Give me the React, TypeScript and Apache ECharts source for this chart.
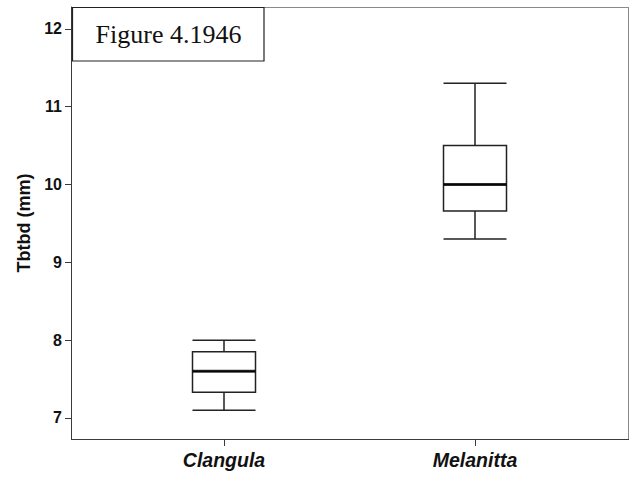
import React, { useEffect, useRef } from "react";
import * as echarts from "echarts";

const categories = ["Clangula", "Melanitta"];
// [min, Q1, median, Q3, max]
const boxValues = [
  [7.1, 7.33, 7.6, 7.85, 8.0],
  [9.3, 9.66, 10.0, 10.5, 11.3],
];
const medians = [7.6, 10.0];
const yTicks = [7, 8, 9, 10, 11, 12];
const yMin = 6.73;
const yMax = 12.28;
const yAxisTitle = "Tbtbd (mm)";
const figureLabel = "Figure 4.1946";

export default function App() {
  const ref = useRef<HTMLDivElement>(null);
  useEffect(() => {
    if (!ref.current) return;
    const chart = echarts.init(ref.current, null, { renderer: "svg" });
    const axisDark = "#3a3a3a";
    const frameGray = "#8a8a8a";
    chart.setOption({
      animation: false,
      backgroundColor: "#ffffff",
      grid: { left: 98.5, right: 34.5, top: 7, bottom: 38, containLabel: false },
      xAxis: {
        type: "category",
        data: categories,
        boundaryGap: true,
        axisLine: { show: false },
        axisTick: { show: true, alignWithLabel: true, length: 7, lineStyle: { color: axisDark, width: 1 } },
        axisLabel: {
          margin: 11,
          color: "#111",
          fontFamily: "Liberation Sans, Arial, sans-serif",
          fontWeight: "bold",
          fontStyle: "italic",
          fontSize: 19.5,
        },
        splitLine: { show: false },
      },
      yAxis: {
        type: "value",
        min: yMin,
        max: yMax,
        offset: 27.5,
        name: yAxisTitle,
        nameLocation: "middle",
        nameGap: 37,
        nameTextStyle: {
          color: "#111",
          fontFamily: "Liberation Sans, Arial, sans-serif",
          fontWeight: "bold",
          fontSize: 18,
        },
        axisLine: { show: true, lineStyle: { color: axisDark, width: 1 } },
        axisTick: { show: true, length: 6, customValues: yTicks, lineStyle: { color: axisDark } },
        axisLabel: {
          margin: 9,
          customValues: yTicks,
          color: "#111",
          fontFamily: "Liberation Sans, Arial, sans-serif",
          fontWeight: "bold",
          fontSize: 16,
        },
        splitLine: { show: false },
      },
      graphic: [
        { type: "line", silent: true, shape: { x1: 71, y1: 7.5, x2: 628.5, y2: 7.5 }, style: { stroke: frameGray, lineWidth: 1 } },
        { type: "line", silent: true, shape: { x1: 628.5, y1: 7, x2: 628.5, y2: 439 }, style: { stroke: frameGray, lineWidth: 1 } },
        { type: "line", silent: true, shape: { x1: 71, y1: 439.5, x2: 629, y2: 439.5 }, style: { stroke: axisDark, lineWidth: 1 } },
        {
          type: "rect",
          silent: true,
          z: 100,
          shape: { x: 72.5, y: 7.5, width: 191.5, height: 53.5 },
          style: { fill: "#ffffff", stroke: "#222", lineWidth: 1.2 },
        },
        {
          type: "text",
          silent: true,
          z: 101,
          x: 168.5,
          y: 34.5,
          style: {
            text: figureLabel,
            fill: "#111",
            font: "26px 'Liberation Serif', 'Times New Roman', serif",
            textAlign: "center",
            textVerticalAlign: "middle",
          },
        },
      ],
      series: [
        {
          type: "boxplot",
          data: boxValues,
          boxWidth: [63, 63],
          itemStyle: { color: "#ffffff", borderColor: "#222", borderWidth: 1.5 },
          emphasis: { disabled: true },
        },
        {
          type: "scatter",
          data: medians,
          symbol: "rect",
          symbolSize: [63, 3],
          itemStyle: { color: "#000" },
          silent: true,
          z: 5,
        },
      ],
    });
    return () => chart.dispose();
  }, []);
  return <div ref={ref} style={{ width: 635, height: 477, position: "absolute", left: 0, top: 0 }} />;
}
